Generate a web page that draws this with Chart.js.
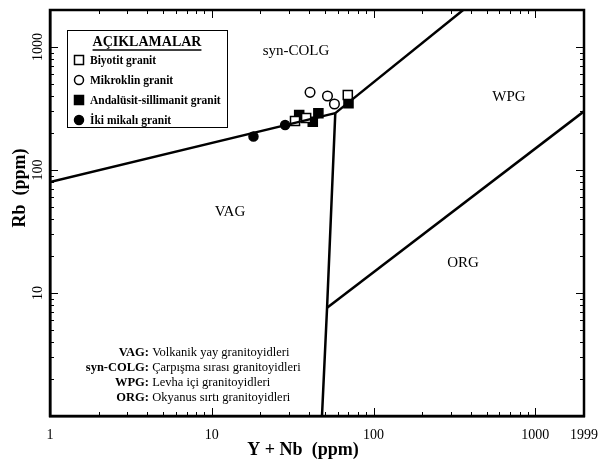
<!DOCTYPE html>
<html>
<head>
<meta charset="utf-8">
<script src="https://cdn.jsdelivr.net/npm/chart.js@4.4.1/dist/chart.umd.min.js"></script>
<style>
  html, body { margin: 0; padding: 0; background: #fff; }
  #wrap { width: 599px; height: 462px; position: relative; }
</style>
</head>
<body>
<div id="wrap"><canvas id="chart"></canvas></div>
<script>
// Axis ranges and tick labels
const xTickValues = [1, 10, 100, 1000, 1999];
const xTickLabels = ['1', '10', '100', '1000', '1999'];
const yTickValues = [10, 100, 1000];
const yTickLabels = ['10', '100', '1000'];

// Field boundaries (Y+Nb, Rb)
const vagSynX = [1, 58];
const vagSynY = [80, 290];
const synWpgX = [58, 358];
const synWpgY = [290, 2000];
const vagWpgX = [58, 51.6, 48];
const vagWpgY = [290, 7.6, 1];
const wpgOrgX = [51.6, 1999];
const wpgOrgY = [7.6, 300];

// Samples
const biyotitX = [32.7, 38.3, 69.3];
const biyotitY = [250, 265, 407];
const mikroklinX = [40.5, 51.9, 57.3];
const mikroklinY = [428, 400, 344];
const andalusitX = [34.7, 42.1, 45.6, 70];
const andalusitY = [280, 247, 289, 349];
const ikiMikaX = [18.1, 28.4];
const ikiMikaY = [187, 232];

const legendLabels = ['Biyotit granit', 'Mikroklin granit', 'Andalüsit-sillimanit granit', 'İki mikalı granit'];
const noteKeys = ['VAG:', 'syn-COLG:', 'WPG:', 'ORG:'];
const noteTexts = ['Volkanik yay granitoyidleri', 'Çarpışma sırası granitoyidleri', 'Levha içi granitoyidleri', 'Okyanus sırtı granitoyidleri'];

const SERIF = '"Liberation Serif", "DejaVu Serif", serif';

function pts(xs, ys) {
  return xs.map((x, i) => ({ x: x, y: ys[i] }));
}

function boundary(xs, ys) {
  return {
    type: 'line',
    data: pts(xs, ys),
    borderColor: '#000',
    borderWidth: 2.5,
    pointRadius: 0,
    fill: false,
    tension: 0
  };
}

function samples(label, xs, ys, style, filled, radius) {
  return {
    label: label,
    data: pts(xs, ys),
    showLine: false,
    pointStyle: style,
    pointRadius: radius,
    pointBackgroundColor: filled ? '#000' : '#fff',
    pointBorderColor: '#000',
    pointBorderWidth: 1.5
  };
}

function drawMarker(ctx, style, filled, x, y) {
  ctx.save();
  ctx.lineWidth = 1.5;
  ctx.strokeStyle = '#000';
  ctx.fillStyle = filled ? '#000' : '#fff';
  ctx.beginPath();
  if (style === 'rect') {
    ctx.rect(x - 4.5, y - 4.5, 9, 9);
  } else {
    ctx.arc(x, y, 4.5, 0, Math.PI * 2);
  }
  ctx.fill();
  ctx.stroke();
  ctx.restore();
}

const decorations = {
  id: 'decorations',
  afterDraw(chart) {
    const ctx = chart.ctx;
    const xs = chart.scales.x;
    const ys = chart.scales.y;
    const area = chart.chartArea;
    ctx.save();
    ctx.strokeStyle = '#000';
    ctx.fillStyle = '#000';

    // frame
    ctx.lineWidth = 2.5;
    ctx.strokeRect(area.left, area.top, area.right - area.left, area.bottom - area.top);

    // inward tick marks on all four sides
    ctx.lineWidth = 1;
    for (let d = 1; d <= 1000; d *= 10) {
      for (let m = 1; m <= 9; m++) {
        const v = d * m;
        const major = m === 1;
        const len = major ? 8 : 4;
        if (v >= 1 && v <= 1999) {
          const px = Math.round(xs.getPixelForValue(v)) + 0.5;
          ctx.beginPath();
          ctx.moveTo(px, area.bottom); ctx.lineTo(px, area.bottom - len);
          ctx.moveTo(px, area.top); ctx.lineTo(px, area.top + len);
          ctx.stroke();
        }
        if (v >= 1 && v <= 2000) {
          const py = Math.round(ys.getPixelForValue(v)) + 0.5;
          ctx.beginPath();
          ctx.moveTo(area.left, py); ctx.lineTo(area.left + len, py);
          ctx.moveTo(area.right, py); ctx.lineTo(area.right - len, py);
          ctx.stroke();
        }
      }
    }

    // tick labels
    ctx.font = '14px ' + SERIF;
    ctx.textAlign = 'center';
    ctx.textBaseline = 'middle';
    xTickValues.forEach((v, i) => {
      ctx.fillText(xTickLabels[i], xs.getPixelForValue(v), area.bottom + 19);
    });
    yTickValues.forEach((v, i) => {
      ctx.save();
      ctx.translate(area.left - 12, ys.getPixelForValue(v));
      ctx.rotate(-Math.PI / 2);
      ctx.fillText(yTickLabels[i], 0, 0);
      ctx.restore();
    });

    // axis titles
    ctx.font = 'bold 18px ' + SERIF;
    ctx.fillText('Y + Nb  (ppm)', 303, 450);
    ctx.save();
    ctx.translate(20, 188);
    ctx.rotate(-Math.PI / 2);
    ctx.fillText('Rb  (ppm)', 0, 0);
    ctx.restore();

    // field names
    ctx.font = '15px ' + SERIF;
    ctx.fillText('syn-COLG', 296, 51);
    ctx.fillText('WPG', 509, 97);
    ctx.fillText('VAG', 230, 212);
    ctx.fillText('ORG', 463, 263);

    // legend box
    ctx.lineWidth = 1;
    ctx.strokeRect(67.5, 30.5, 160, 97);
    ctx.font = 'bold 14px ' + SERIF;
    ctx.fillText('AÇIKLAMALAR', 147, 42);
    const tw = ctx.measureText('AÇIKLAMALAR').width;
    ctx.lineWidth = 1.5;
    ctx.beginPath();
    ctx.moveTo(147 - tw / 2, 50); ctx.lineTo(147 + tw / 2, 50);
    ctx.stroke();
    const styles = [['rect', false], ['circle', false], ['rect', true], ['circle', true]];
    ctx.font = 'bold 11.5px ' + SERIF;
    ctx.textAlign = 'left';
    legendLabels.forEach((t, i) => {
      const y = 60 + i * 20;
      drawMarker(ctx, styles[i][0], styles[i][1], 79, y);
      ctx.fillStyle = '#000';
      ctx.fillText(t, 90, y + 1);
    });

    // abbreviations note
    noteKeys.forEach((k, i) => {
      const y = 353 + i * 15;
      ctx.font = 'bold 12.5px ' + SERIF;
      ctx.textAlign = 'right';
      ctx.fillText(k, 149, y);
      ctx.font = '12.5px ' + SERIF;
      ctx.textAlign = 'left';
      ctx.fillText(' ' + noteTexts[i], 149, y);
    });
    ctx.restore();
  }
};

new Chart(document.getElementById('chart'), {
  type: 'scatter',
  data: {
    datasets: [
      boundary(vagSynX, vagSynY),
      boundary(synWpgX, synWpgY),
      boundary(vagWpgX, vagWpgY),
      boundary(wpgOrgX, wpgOrgY),
      samples(legendLabels[0], biyotitX, biyotitY, 'rect', false, 6.4),
      samples(legendLabels[1], mikroklinX, mikroklinY, 'circle', false, 4.8),
      samples(legendLabels[2], andalusitX, andalusitY, 'rect', true, 6.4),
      samples(legendLabels[3], ikiMikaX, ikiMikaY, 'circle', true, 4.5)
    ]
  },
  options: {
    responsive: true,
    maintainAspectRatio: false,
    animation: false,
    clip: true,
    layout: {
      padding: { left: 50, top: 10, right: 15, bottom: 46 }
    },
    plugins: {
      legend: { display: false },
      tooltip: { enabled: false }
    },
    scales: {
      x: {
        type: 'logarithmic',
        min: 1,
        max: 1999,
        grid: { display: false, drawTicks: false },
        border: { display: true, color: '#000', width: 2.5 },
        ticks: { display: false }
      },
      y: {
        type: 'logarithmic',
        min: 1,
        max: 2000,
        grid: { display: false, drawTicks: false },
        border: { display: true, color: '#000', width: 2.5 },
        ticks: { display: false }
      }
    }
  },
  plugins: [decorations]
});
</script>
</body>
</html>
